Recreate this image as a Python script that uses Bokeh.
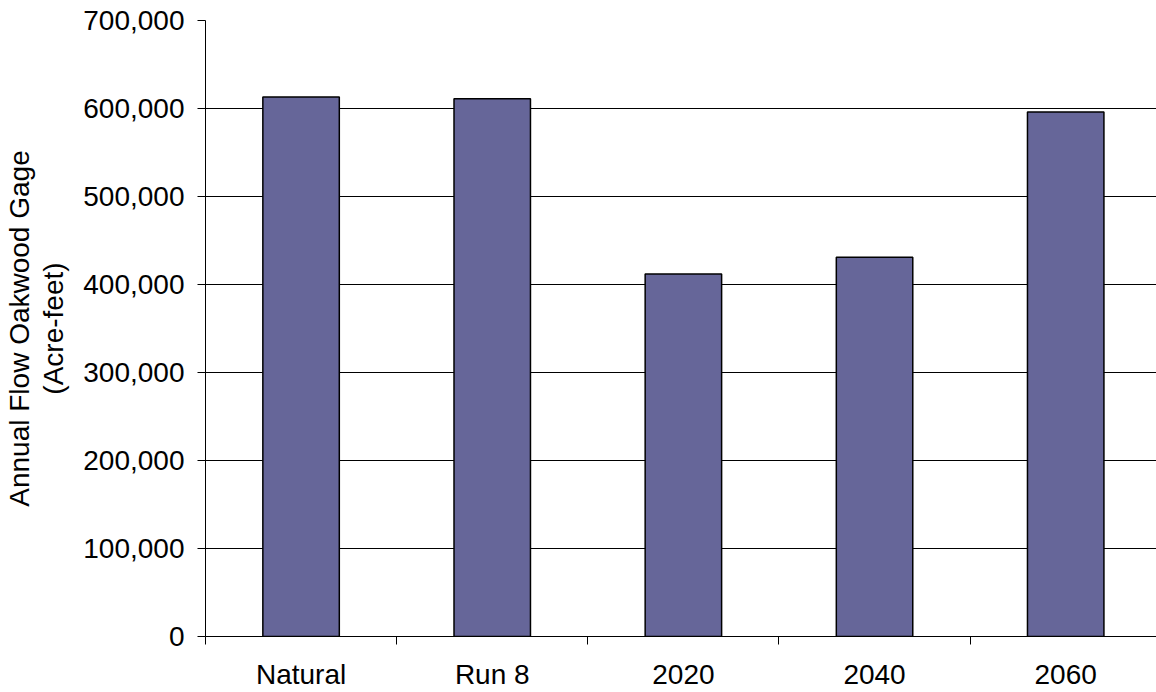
from bokeh.plotting import figure
from bokeh.models import Range1d, FixedTicker, NumeralTickFormatter, ColumnDataSource
from bokeh.embed import file_html
from bokeh.resources import INLINE

# Annual flow at the Oakwood gage for each scenario (acre-feet)
scenarios = ["Natural", "Run 8", "2020", "2040", "2060"]
annual_flow = [613000, 611000, 412000, 431000, 596000]
y_ticks = [0, 100000, 200000, 300000, 400000, 500000, 600000, 700000]

FONT = "Liberation Sans"
FONT_SIZE = "28px"

centers = [i + 0.5 for i in range(len(scenarios))]
source = ColumnDataSource(dict(x=centers, top=annual_flow, name=scenarios))

p = figure(
    width=1156, height=692,
    output_backend="svg", toolbar_location=None,
    x_range=Range1d(0, 4.975), y_range=Range1d(0, 700000),
    min_border_top=20, min_border_bottom=56, min_border_right=0, min_border_left=205,
)
p.outline_line_color = None
p.background_fill_color = "white"
p.border_fill_color = "white"

p.vbar(x="x", top="top", width=0.4, source=source,
       fill_color="#666699", line_color="black", line_width=1.5)

# category axis: labels at centers, tick marks at category boundaries
p.xaxis.ticker = FixedTicker(ticks=centers,
                             minor_ticks=list(range(len(scenarios) + 1)))
p.xaxis.major_label_overrides = {c: s for c, s in zip(centers, scenarios)}
p.xaxis.major_tick_out = 0
p.xaxis.major_tick_in = 0
p.xaxis.minor_tick_out = 8
p.xaxis.minor_tick_in = 0
p.xaxis.minor_tick_line_color = "black"
p.xaxis.axis_line_color = "black"
p.xaxis.major_label_standoff = 14
p.xgrid.grid_line_color = None

# value axis
p.yaxis.ticker = FixedTicker(ticks=y_ticks)
p.yaxis.formatter = NumeralTickFormatter(format="0,0")
p.yaxis.major_tick_out = 8
p.yaxis.major_tick_in = 0
p.yaxis.minor_tick_line_color = None
p.yaxis.major_tick_line_color = "black"
p.yaxis.axis_line_color = "black"
p.yaxis.major_label_standoff = 13
p.yaxis.axis_label = "Annual Flow Oakwood Gage\n(Acre-feet)"
p.yaxis.axis_label_standoff = 11
p.yaxis.axis_label_text_font_style = "normal"
p.ygrid.ticker = FixedTicker(ticks=y_ticks)
p.ygrid.grid_line_color = "black"
p.ygrid.grid_line_width = 1

for ax in (p.xaxis, p.yaxis):
    ax.major_label_text_font = FONT
    ax.major_label_text_font_size = FONT_SIZE
    ax.major_label_text_color = "black"
    ax.axis_label_text_font = FONT
    ax.axis_label_text_color = "black"
p.yaxis.axis_label_text_font_size = "28px"
p.yaxis.axis_label_text_line_height = 1.1

open("out.html", "w").write(file_html(p, INLINE))
